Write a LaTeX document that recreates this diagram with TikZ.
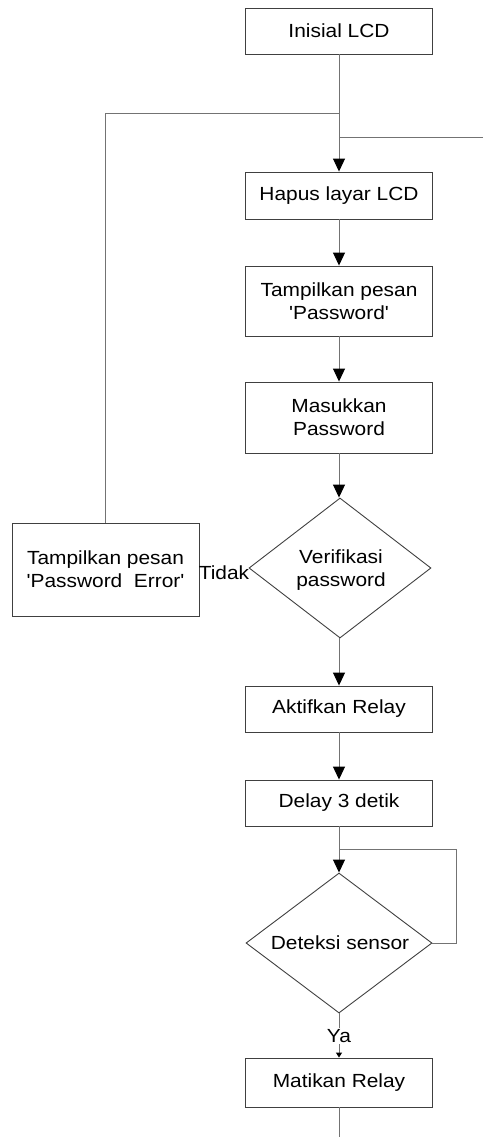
\documentclass[tikz,border=0pt]{standalone}
\usepackage{fontspec}
\newfontfamily\af{Liberation Sans}[FakeStretch=1.1]
\usetikzlibrary{arrows.meta,shapes.geometric}
\tikzset{
  txt/.style={font=\af\fontsize{19}{23}\selectfont, align=center, inner sep=0pt},
  box/.style={txt, draw=black!75, line width=0.9pt, rectangle, minimum width=187pt},
  dia/.style={draw=black!75, line width=0.9pt, diamond, inner sep=0pt},
  conn/.style={draw=black!55, line width=1pt},
  arr/.style={conn, -{Triangle[length=13pt,width=12pt,color=black]}},
  sarr/.style={conn, -{Triangle[length=5pt,width=6pt,color=black]}}
}
\begin{document}
\begin{tikzpicture}[x=1pt,y=-1pt]
\useasboundingbox (0,0) rectangle (483,1137);
\node[box, minimum height=46pt] (init) at (339,31) {Inisial LCD};
\node[box, minimum height=47pt] (hapus) at (339,195.5) {Hapus layar LCD};
\node[box, minimum height=70pt] (tampil) at (339,301) {Tampilkan pesan\\'Password'};
\node[box, minimum height=71pt] (masuk) at (339,417.5) {Masukkan\\Password};
\node[dia, minimum width=182pt, minimum height=140pt] (verif) at (340,568) {};
\node[txt] (veriftxt) at (341,570) {Verifikasi\\password};
\node[box, minimum height=93pt] (err) at (105.5,569.5) {Tampilkan pesan\\'Password\ \ Error'};
\node[txt] (tidak) at (224,573) {Tidak};
\node[box, minimum height=46pt] (aktif) at (339,709) {Aktifkan Relay};
\node[box, minimum height=46pt] (delay) at (339,803) {Delay 3 detik};
\node[dia, minimum width=186pt, minimum height=140pt] (detek) at (339,943) {};
\node[txt] (detektxt) at (340,943) {Deteksi sensor};
\node[box, minimum height=49pt] (mati) at (339,1082.5) {Matikan Relay};

\coordinate (j1) at (339,114);
\coordinate (j2) at (339,137);
\coordinate (redge) at (483,137);
\coordinate (j3) at (339,849);
\coordinate (rloop) at (456,943);
\coordinate (bend) at (339,1137);

\draw[arr] (init.south) -- (hapus.north);
\draw[conn] (err.north) |- (j1);
\draw[conn] (redge) -- (j2);
\draw[arr] (hapus.south) -- (tampil.north);
\draw[arr] (tampil.south) -- (masuk.north);
\draw[arr] (masuk.south) -- (masuk.south |- verif.north);
\draw[arr] (verif.south -| aktif.north) -- (aktif.north);
\draw[arr] (aktif.south) -- (delay.north);
\draw[arr] (delay.south) -- (detek.north);
\draw[conn] (detek.east) -- (rloop) |- (j3);
\draw[sarr] (detek.south) -- (mati.north);
\node[txt, fill=white, inner sep=1pt] (ya) at (339,1036) {Ya};
\draw[conn] (mati.south) -- (bend);
\end{tikzpicture}
\end{document}
